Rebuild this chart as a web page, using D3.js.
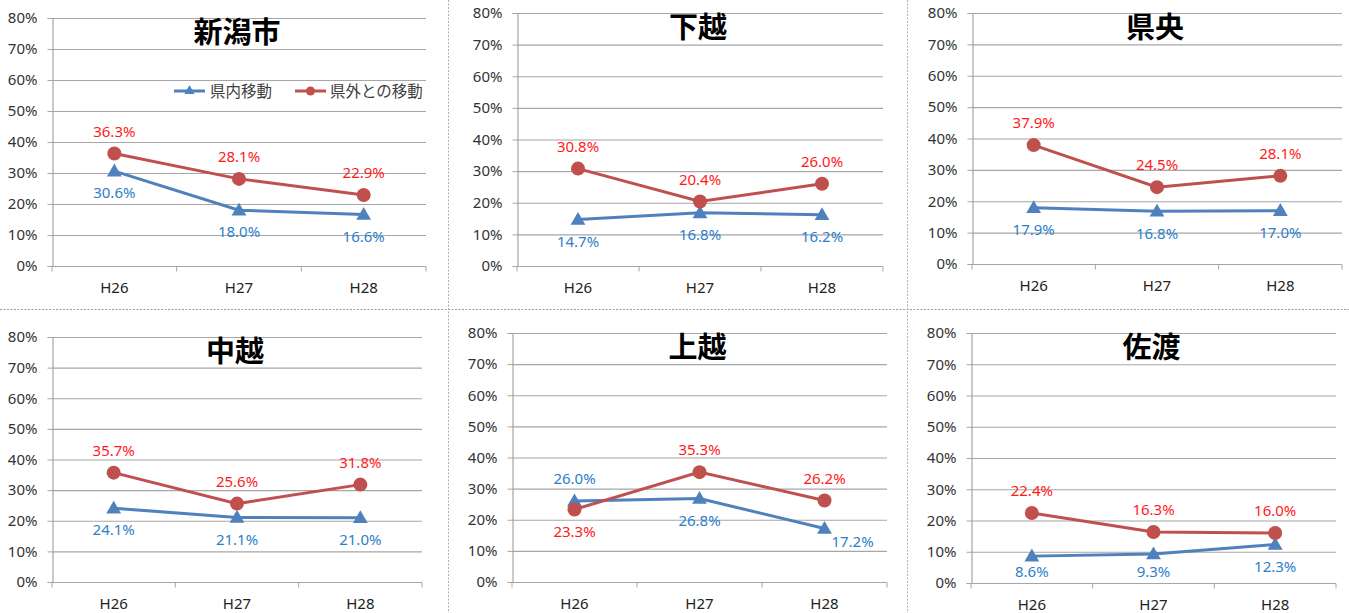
<!DOCTYPE html>
<html><head><meta charset="utf-8">
<script src="https://cdn.jsdelivr.net/npm/d3@7"></script>
<style>
html,body{margin:0;padding:0;background:#fff;}
svg{display:block;}
</style></head>
<body>
<svg id="chart" width="1349" height="613"></svg>
<script>
// ---- data ----
const regions = ["新潟市", "下越", "県央", "中越", "上越", "佐渡"];
const years = ["H26", "H27", "H28"];
const seriesNames = ["県内移動", "県外との移動"];
const inPref  = [[30.6, 18.0, 16.6], [14.7, 16.8, 16.2], [17.9, 16.8, 17.0], [24.1, 21.1, 21.0], [26.0, 26.8, 17.2], [8.6, 9.3, 12.3]];
const outPref = [[36.3, 28.1, 22.9], [30.8, 20.4, 26.0], [37.9, 24.5, 28.1], [35.7, 25.6, 31.8], [23.3, 35.3, 26.2], [22.4, 16.3, 16.0]];
const yTicks = [0, 10, 20, 30, 40, 50, 60, 70, 80];
// label placement: a = above, b = below, r = right
const inPlace  = [["b","b","b"],["b","b","b"],["b","b","b"],["b","b","b"],["a","b","r"],["b","b","b"]];
const outPlace = [["a","a","a"],["a","a","a"],["a","a","a"],["a","a","a"],["b","a","a"],["a","a","a"]];

// ---- layout ----
const panels = [
  {x0: 52,  x1: 426,  y0: 18,  y1: 266},
  {x0: 517, x1: 883,  y0: 13,  y1: 266},
  {x0: 972, x1: 1342, y0: 13,  y1: 264},
  {x0: 52,  x1: 422,  y0: 337, y1: 582},
  {x0: 512, x1: 887,  y0: 333, y1: 582},
  {x0: 971, x1: 1336, y0: 333, y1: 583}
];
const BLUE = "#4F81BD", RED = "#C0504D", BLUE_T = "#2D80C8", RED_T = "#FF1A1A";
const GRID = "#A6A6A6";
const svg = d3.select("#chart");

// separators
svg.append("line").attr("x1",0).attr("x2",1349).attr("y1",309.5).attr("y2",309.5)
  .attr("stroke","#9a9a9a").attr("stroke-dasharray","2,1.5");
[448.5, 907.5].forEach(x => svg.append("line").attr("x1",x).attr("x2",x).attr("y1",0).attr("y2",613)
  .attr("stroke","#b0b0b0").attr("stroke-dasharray","2,1.5"));

const tri = d3.symbol().type(d3.symbolTriangle).size(95);

regions.forEach((name, i) => {
  const p = panels[i];
  const g = svg.append("g");
  const x = d3.scaleBand().domain(years).range([p.x0, p.x1]).padding(0);
  const y = d3.scaleLinear().domain([0, 80]).range([p.y1, p.y0]);
  const cx = d => x(d) + x.bandwidth() / 2;

  // gridlines
  g.append("g").attr("transform", `translate(${p.x0},0)`)
    .call(d3.axisLeft(y).tickValues(yTicks.slice(1)).tickSize(-(p.x1 - p.x0)).tickFormat(""))
    .call(s => s.select(".domain").remove())
    .call(s => s.selectAll("line").attr("stroke", GRID).attr("stroke-width", 1.2));

  // y axis
  g.append("g").attr("transform", `translate(${p.x0 + 0.5},0)`)
    .call(d3.axisLeft(y).tickValues(yTicks).tickSize(5).tickPadding(10).tickFormat(d => d + "%"))
    .call(s => s.select(".domain").attr("stroke", GRID).attr("stroke-width", 1.2))
    .call(s => s.selectAll("line").attr("stroke", GRID))
    .call(s => s.selectAll("text").attr("font-family", "'Noto Sans', sans-serif").attr("font-size", 15).attr("fill", "#333"));

  // x axis
  const xa = g.append("g").attr("transform", `translate(0,${p.y1 + 0.5})`);
  xa.append("line").attr("x1", p.x0).attr("x2", p.x1).attr("stroke", GRID).attr("stroke-width", 1.2);
  const bounds = years.map(d => x(d)).concat([p.x1]);
  xa.selectAll("line.tk").data(bounds).join("line").attr("class", "tk")
    .attr("x1", d => d).attr("x2", d => d).attr("y1", 0).attr("y2", 5).attr("stroke", GRID);
  xa.selectAll("text").data(years).join("text")
    .attr("x", cx).attr("y", 21).attr("dy", "0.35em").attr("text-anchor", "middle")
    .attr("font-family", "'Noto Sans', sans-serif").attr("font-size", 15).attr("fill", "#222")
    .text(d => d);

  // title
  g.append("text").attr("x", (p.x0 + p.x1) / 2 - 2).attr("y", p.y0 + 15).attr("dy", "0.36em")
    .attr("text-anchor", "middle").attr("font-family", "'Noto Sans CJK JP', sans-serif")
    .attr("font-weight", "bold").attr("font-size", 29).attr("fill", "#000").text(name);

  const line = d3.line().x((d, j) => cx(years[j])).y(d => y(d));

  // series lines
  g.append("path").datum(inPref[i]).attr("d", line).attr("fill", "none").attr("stroke", BLUE).attr("stroke-width", 3);
  g.append("path").datum(outPref[i]).attr("d", line).attr("fill", "none").attr("stroke", RED).attr("stroke-width", 3);

  // markers
  g.selectAll("path.tri").data(inPref[i]).join("path").attr("class", "tri")
    .attr("d", tri).attr("transform", (d, j) => `translate(${cx(years[j])},${y(d) + 1})`).attr("fill", BLUE);
  g.selectAll("circle.dot").data(outPref[i]).join("circle").attr("class", "dot")
    .attr("cx", (d, j) => cx(years[j])).attr("cy", d => y(d)).attr("r", 7).attr("fill", RED);

  // labels
  const place = (d, j, pl) => {
    const px = cx(years[j]), py = y(d);
    if (pl === "a") return [px, py - 22];
    if (pl === "r") return [px + 28, py + 13];
    return [px, Math.min(py + 22, p.y1 - 11)];
  };
  const addLabels = (vals, places, color) => {
    vals.forEach((d, j) => {
      const [lx, ly] = place(d, j, places[j]);
      g.append("text").attr("x", lx).attr("y", ly).attr("dy", "0.35em").attr("text-anchor", "middle")
        .attr("font-family", "'Noto Sans', sans-serif").attr("font-size", 15).attr("fill", color)
        .text(d.toFixed(1) + "%");
    });
  };
  addLabels(inPref[i], inPlace[i], BLUE_T);
  addLabels(outPref[i], outPlace[i], RED_T);

  // legend (first panel only)
  if (i === 0) {
    const lg = g.append("g");
    lg.append("rect").attr("x", 150).attr("y", 81).attr("width", p.x1 - 150).attr("height", 21)
      .attr("fill", "#fff").attr("opacity", 0.85);
    const items = [
      {name: seriesNames[0], color: BLUE, x: 174, tx: 210, kind: "tri"},
      {name: seriesNames[1], color: RED, x: 295, tx: 330, kind: "dot"}
    ];
    items.forEach(it => {
      lg.append("line").attr("x1", it.x).attr("x2", it.x + 31).attr("y1", 91).attr("y2", 91)
        .attr("stroke", it.color).attr("stroke-width", 3);
      if (it.kind === "tri") lg.append("path").attr("d", d3.symbol().type(d3.symbolTriangle).size(45))
        .attr("transform", `translate(${it.x + 15.5},91)`).attr("fill", it.color);
      else lg.append("circle").attr("cx", it.x + 15.5).attr("cy", 91).attr("r", 4.5).attr("fill", it.color);
      lg.append("text").attr("x", it.tx).attr("y", 91).attr("dy", "0.36em")
        .attr("font-family", "'Noto Sans CJK JP', sans-serif").attr("font-size", 15.5).attr("fill", "#404040")
        .text(it.name);
    });
  }
});
</script>
</body></html>
